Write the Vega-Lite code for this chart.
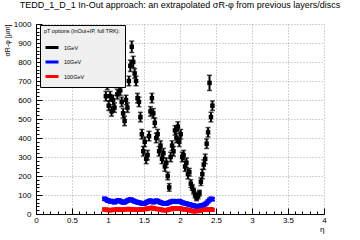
{
"$schema": "https://vega.github.io/schema/vega-lite/v6.json",
"width": 288, "height": 190,
"autosize": "none",
"padding": {"left": 36, "top": 24, "right": 36, "bottom": 26},
"background": "white",
"config": {"font": "Liberation Sans", "view": {"stroke": null}},
"title": {"text": "TEDD_1_D_1 In-Out approach: an extrapolated σR-φ from previous layers/discs", "fontSize": 9, "fontWeight": "normal", "anchor": "middle", "offset": 3, "baseline": "alphabetic", "color": "black", "frame": "group"},
"data": {"values": [
{"eta":0.95,"s":700,"e":25,"p":"1GeV"},{"eta":0.97,"s":620,"e":25,"p":"1GeV"},{"eta":0.99,"s":680,"e":25,"p":"1GeV"},{"eta":1.01,"s":570,"e":25,"p":"1GeV"},{"eta":1.03,"s":620,"e":25,"p":"1GeV"},{"eta":1.05,"s":540,"e":25,"p":"1GeV"},{"eta":1.07,"s":600,"e":25,"p":"1GeV"},{"eta":1.09,"s":560,"e":25,"p":"1GeV"},{"eta":1.11,"s":690,"e":25,"p":"1GeV"},{"eta":1.13,"s":630,"e":25,"p":"1GeV"},{"eta":1.15,"s":700,"e":25,"p":"1GeV"},{"eta":1.17,"s":650,"e":25,"p":"1GeV"},{"eta":1.19,"s":590,"e":25,"p":"1GeV"},{"eta":1.21,"s":530,"e":25,"p":"1GeV"},{"eta":1.23,"s":490,"e":25,"p":"1GeV"},{"eta":1.25,"s":600,"e":25,"p":"1GeV"},{"eta":1.27,"s":560,"e":25,"p":"1GeV"},{"eta":1.29,"s":700,"e":25,"p":"1GeV"},{"eta":1.31,"s":780,"e":30,"p":"1GeV"},{"eta":1.33,"s":880,"e":30,"p":"1GeV"},{"eta":1.35,"s":800,"e":30,"p":"1GeV"},{"eta":1.37,"s":740,"e":25,"p":"1GeV"},{"eta":1.39,"s":700,"e":25,"p":"1GeV"},{"eta":1.41,"s":610,"e":25,"p":"1GeV"},{"eta":1.43,"s":590,"e":25,"p":"1GeV"},{"eta":1.45,"s":510,"e":25,"p":"1GeV"},{"eta":1.47,"s":420,"e":25,"p":"1GeV"},{"eta":1.49,"s":330,"e":25,"p":"1GeV"},{"eta":1.51,"s":380,"e":25,"p":"1GeV"},{"eta":1.53,"s":290,"e":25,"p":"1GeV"},{"eta":1.55,"s":310,"e":25,"p":"1GeV"},{"eta":1.57,"s":410,"e":25,"p":"1GeV"},{"eta":1.59,"s":540,"e":25,"p":"1GeV"},{"eta":1.61,"s":610,"e":25,"p":"1GeV"},{"eta":1.63,"s":530,"e":25,"p":"1GeV"},{"eta":1.65,"s":480,"e":25,"p":"1GeV"},{"eta":1.67,"s":400,"e":25,"p":"1GeV"},{"eta":1.69,"s":420,"e":25,"p":"1GeV"},{"eta":1.71,"s":330,"e":25,"p":"1GeV"},{"eta":1.73,"s":360,"e":25,"p":"1GeV"},{"eta":1.75,"s":290,"e":25,"p":"1GeV"},{"eta":1.77,"s":320,"e":25,"p":"1GeV"},{"eta":1.79,"s":250,"e":25,"p":"1GeV"},{"eta":1.81,"s":270,"e":25,"p":"1GeV"},{"eta":1.83,"s":200,"e":20,"p":"1GeV"},{"eta":1.85,"s":140,"e":20,"p":"1GeV"},{"eta":1.87,"s":300,"e":25,"p":"1GeV"},{"eta":1.89,"s":360,"e":25,"p":"1GeV"},{"eta":1.91,"s":330,"e":25,"p":"1GeV"},{"eta":1.93,"s":440,"e":25,"p":"1GeV"},{"eta":1.95,"s":400,"e":25,"p":"1GeV"},{"eta":1.97,"s":460,"e":25,"p":"1GeV"},{"eta":1.99,"s":380,"e":25,"p":"1GeV"},{"eta":2.01,"s":420,"e":25,"p":"1GeV"},{"eta":2.03,"s":300,"e":25,"p":"1GeV"},{"eta":2.05,"s":310,"e":25,"p":"1GeV"},{"eta":2.07,"s":250,"e":25,"p":"1GeV"},{"eta":2.09,"s":270,"e":25,"p":"1GeV"},{"eta":2.11,"s":210,"e":25,"p":"1GeV"},{"eta":2.13,"s":220,"e":20,"p":"1GeV"},{"eta":2.15,"s":160,"e":20,"p":"1GeV"},{"eta":2.17,"s":140,"e":15,"p":"1GeV"},{"eta":2.19,"s":120,"e":15,"p":"1GeV"},{"eta":2.21,"s":100,"e":15,"p":"1GeV"},{"eta":2.23,"s":85,"e":15,"p":"1GeV"},{"eta":2.25,"s":95,"e":15,"p":"1GeV"},{"eta":2.27,"s":110,"e":15,"p":"1GeV"},{"eta":2.29,"s":170,"e":20,"p":"1GeV"},{"eta":2.31,"s":210,"e":25,"p":"1GeV"},{"eta":2.33,"s":260,"e":25,"p":"1GeV"},{"eta":2.35,"s":290,"e":25,"p":"1GeV"},{"eta":2.37,"s":370,"e":25,"p":"1GeV"},{"eta":2.39,"s":430,"e":25,"p":"1GeV"},{"eta":2.41,"s":690,"e":40,"p":"1GeV"},{"eta":2.43,"s":510,"e":25,"p":"1GeV"},{"eta":2.45,"s":570,"e":25,"p":"1GeV"},
{"eta":0.95,"s":80,"e":8,"p":"10GeV"},{"eta":0.97,"s":78,"e":8,"p":"10GeV"},{"eta":0.99,"s":72,"e":8,"p":"10GeV"},{"eta":1.01,"s":70,"e":8,"p":"10GeV"},{"eta":1.03,"s":66,"e":8,"p":"10GeV"},{"eta":1.05,"s":68,"e":8,"p":"10GeV"},{"eta":1.07,"s":64,"e":8,"p":"10GeV"},{"eta":1.09,"s":62,"e":8,"p":"10GeV"},{"eta":1.11,"s":66,"e":8,"p":"10GeV"},{"eta":1.13,"s":70,"e":8,"p":"10GeV"},{"eta":1.15,"s":72,"e":8,"p":"10GeV"},{"eta":1.17,"s":68,"e":8,"p":"10GeV"},{"eta":1.19,"s":64,"e":8,"p":"10GeV"},{"eta":1.21,"s":60,"e":8,"p":"10GeV"},{"eta":1.23,"s":62,"e":8,"p":"10GeV"},{"eta":1.25,"s":66,"e":8,"p":"10GeV"},{"eta":1.27,"s":70,"e":8,"p":"10GeV"},{"eta":1.29,"s":74,"e":8,"p":"10GeV"},{"eta":1.31,"s":76,"e":8,"p":"10GeV"},{"eta":1.33,"s":74,"e":8,"p":"10GeV"},{"eta":1.35,"s":70,"e":8,"p":"10GeV"},{"eta":1.37,"s":66,"e":8,"p":"10GeV"},{"eta":1.39,"s":64,"e":8,"p":"10GeV"},{"eta":1.41,"s":62,"e":8,"p":"10GeV"},{"eta":1.43,"s":60,"e":8,"p":"10GeV"},{"eta":1.45,"s":58,"e":8,"p":"10GeV"},{"eta":1.47,"s":56,"e":8,"p":"10GeV"},{"eta":1.49,"s":54,"e":8,"p":"10GeV"},{"eta":1.51,"s":56,"e":8,"p":"10GeV"},{"eta":1.53,"s":60,"e":8,"p":"10GeV"},{"eta":1.55,"s":64,"e":8,"p":"10GeV"},{"eta":1.57,"s":68,"e":8,"p":"10GeV"},{"eta":1.59,"s":70,"e":8,"p":"10GeV"},{"eta":1.61,"s":66,"e":8,"p":"10GeV"},{"eta":1.63,"s":62,"e":8,"p":"10GeV"},{"eta":1.65,"s":66,"e":8,"p":"10GeV"},{"eta":1.67,"s":70,"e":8,"p":"10GeV"},{"eta":1.69,"s":68,"e":8,"p":"10GeV"},{"eta":1.71,"s":64,"e":8,"p":"10GeV"},{"eta":1.73,"s":60,"e":8,"p":"10GeV"},{"eta":1.75,"s":58,"e":8,"p":"10GeV"},{"eta":1.77,"s":56,"e":8,"p":"10GeV"},{"eta":1.79,"s":56,"e":8,"p":"10GeV"},{"eta":1.81,"s":54,"e":8,"p":"10GeV"},{"eta":1.83,"s":58,"e":8,"p":"10GeV"},{"eta":1.85,"s":60,"e":8,"p":"10GeV"},{"eta":1.87,"s":64,"e":8,"p":"10GeV"},{"eta":1.89,"s":66,"e":8,"p":"10GeV"},{"eta":1.91,"s":68,"e":8,"p":"10GeV"},{"eta":1.93,"s":66,"e":8,"p":"10GeV"},{"eta":1.95,"s":64,"e":8,"p":"10GeV"},{"eta":1.97,"s":66,"e":8,"p":"10GeV"},{"eta":1.99,"s":68,"e":8,"p":"10GeV"},{"eta":2.01,"s":64,"e":8,"p":"10GeV"},{"eta":2.03,"s":60,"e":8,"p":"10GeV"},{"eta":2.05,"s":58,"e":8,"p":"10GeV"},{"eta":2.07,"s":56,"e":8,"p":"10GeV"},{"eta":2.09,"s":54,"e":8,"p":"10GeV"},{"eta":2.11,"s":52,"e":8,"p":"10GeV"},{"eta":2.13,"s":50,"e":8,"p":"10GeV"},{"eta":2.15,"s":48,"e":8,"p":"10GeV"},{"eta":2.17,"s":46,"e":8,"p":"10GeV"},{"eta":2.19,"s":44,"e":8,"p":"10GeV"},{"eta":2.21,"s":42,"e":8,"p":"10GeV"},{"eta":2.23,"s":40,"e":8,"p":"10GeV"},{"eta":2.25,"s":40,"e":8,"p":"10GeV"},{"eta":2.27,"s":42,"e":8,"p":"10GeV"},{"eta":2.29,"s":44,"e":8,"p":"10GeV"},{"eta":2.31,"s":46,"e":8,"p":"10GeV"},{"eta":2.33,"s":48,"e":8,"p":"10GeV"},{"eta":2.35,"s":52,"e":8,"p":"10GeV"},{"eta":2.37,"s":58,"e":8,"p":"10GeV"},{"eta":2.39,"s":66,"e":8,"p":"10GeV"},{"eta":2.41,"s":74,"e":8,"p":"10GeV"},{"eta":2.43,"s":80,"e":8,"p":"10GeV"},{"eta":2.45,"s":78,"e":8,"p":"10GeV"},
{"eta":0.95,"s":24,"e":5,"p":"100GeV"},{"eta":0.97,"s":22,"e":5,"p":"100GeV"},{"eta":0.99,"s":22,"e":5,"p":"100GeV"},{"eta":1.01,"s":20,"e":5,"p":"100GeV"},{"eta":1.03,"s":20,"e":5,"p":"100GeV"},{"eta":1.05,"s":21,"e":5,"p":"100GeV"},{"eta":1.07,"s":22,"e":5,"p":"100GeV"},{"eta":1.09,"s":22,"e":5,"p":"100GeV"},{"eta":1.11,"s":23,"e":5,"p":"100GeV"},{"eta":1.13,"s":24,"e":5,"p":"100GeV"},{"eta":1.15,"s":24,"e":5,"p":"100GeV"},{"eta":1.17,"s":22,"e":5,"p":"100GeV"},{"eta":1.19,"s":22,"e":5,"p":"100GeV"},{"eta":1.21,"s":23,"e":5,"p":"100GeV"},{"eta":1.23,"s":24,"e":5,"p":"100GeV"},{"eta":1.25,"s":25,"e":5,"p":"100GeV"},{"eta":1.27,"s":26,"e":5,"p":"100GeV"},{"eta":1.29,"s":26,"e":5,"p":"100GeV"},{"eta":1.31,"s":25,"e":5,"p":"100GeV"},{"eta":1.33,"s":24,"e":5,"p":"100GeV"},{"eta":1.35,"s":24,"e":5,"p":"100GeV"},{"eta":1.37,"s":23,"e":5,"p":"100GeV"},{"eta":1.39,"s":22,"e":5,"p":"100GeV"},{"eta":1.41,"s":22,"e":5,"p":"100GeV"},{"eta":1.43,"s":23,"e":5,"p":"100GeV"},{"eta":1.45,"s":24,"e":5,"p":"100GeV"},{"eta":1.47,"s":24,"e":5,"p":"100GeV"},{"eta":1.49,"s":25,"e":5,"p":"100GeV"},{"eta":1.51,"s":26,"e":5,"p":"100GeV"},{"eta":1.53,"s":27,"e":5,"p":"100GeV"},{"eta":1.55,"s":28,"e":5,"p":"100GeV"},{"eta":1.57,"s":30,"e":5,"p":"100GeV"},{"eta":1.59,"s":32,"e":5,"p":"100GeV"},{"eta":1.61,"s":32,"e":5,"p":"100GeV"},{"eta":1.63,"s":30,"e":5,"p":"100GeV"},{"eta":1.65,"s":28,"e":5,"p":"100GeV"},{"eta":1.67,"s":27,"e":5,"p":"100GeV"},{"eta":1.69,"s":26,"e":5,"p":"100GeV"},{"eta":1.71,"s":25,"e":5,"p":"100GeV"},{"eta":1.73,"s":24,"e":5,"p":"100GeV"},{"eta":1.75,"s":22,"e":5,"p":"100GeV"},{"eta":1.77,"s":20,"e":5,"p":"100GeV"},{"eta":1.79,"s":20,"e":5,"p":"100GeV"},{"eta":1.81,"s":20,"e":5,"p":"100GeV"},{"eta":1.83,"s":22,"e":5,"p":"100GeV"},{"eta":1.85,"s":24,"e":5,"p":"100GeV"},{"eta":1.87,"s":26,"e":5,"p":"100GeV"},{"eta":1.89,"s":28,"e":5,"p":"100GeV"},{"eta":1.91,"s":30,"e":5,"p":"100GeV"},{"eta":1.93,"s":30,"e":5,"p":"100GeV"},{"eta":1.95,"s":29,"e":5,"p":"100GeV"},{"eta":1.97,"s":28,"e":5,"p":"100GeV"},{"eta":1.99,"s":30,"e":5,"p":"100GeV"},{"eta":2.01,"s":28,"e":5,"p":"100GeV"},{"eta":2.03,"s":26,"e":5,"p":"100GeV"},{"eta":2.05,"s":25,"e":5,"p":"100GeV"},{"eta":2.07,"s":24,"e":5,"p":"100GeV"},{"eta":2.09,"s":23,"e":5,"p":"100GeV"},{"eta":2.11,"s":22,"e":5,"p":"100GeV"},{"eta":2.13,"s":20,"e":5,"p":"100GeV"},{"eta":2.15,"s":18,"e":5,"p":"100GeV"},{"eta":2.17,"s":16,"e":5,"p":"100GeV"},{"eta":2.19,"s":15,"e":5,"p":"100GeV"},{"eta":2.21,"s":15,"e":5,"p":"100GeV"},{"eta":2.23,"s":16,"e":5,"p":"100GeV"},{"eta":2.25,"s":16,"e":5,"p":"100GeV"},{"eta":2.27,"s":18,"e":5,"p":"100GeV"},{"eta":2.29,"s":20,"e":5,"p":"100GeV"},{"eta":2.31,"s":22,"e":5,"p":"100GeV"},{"eta":2.33,"s":24,"e":5,"p":"100GeV"},{"eta":2.35,"s":24,"e":5,"p":"100GeV"},{"eta":2.37,"s":22,"e":5,"p":"100GeV"},{"eta":2.39,"s":22,"e":5,"p":"100GeV"},{"eta":2.41,"s":24,"e":5,"p":"100GeV"},{"eta":2.43,"s":25,"e":5,"p":"100GeV"},{"eta":2.45,"s":22,"e":5,"p":"100GeV"}
]},
"layer": [
 {"mark": {"type": "point", "shape": "square", "filled": true, "size": 20, "opacity": 1},
  "encoding": {
   "x": {"field": "eta", "type": "quantitative", "scale": {"domain": [0, 4], "nice": false, "zero": false},
    "axis": {"values": [0, 0.5, 1, 1.5, 2, 2.5, 3, 3.5, 4], "format": "~g", "title": "η", "titleAnchor": "end", "titleAlign": "right", "titleFontSize": 8, "titleFontWeight": "normal", "titleColor": "black", "titlePadding": 1,
     "grid": true, "gridDash": [1, 2], "gridColor": "#a8a8a8", "tickSize": -6, "tickColor": "black", "domainColor": "black", "labelPadding": 8, "labelFontSize": 8, "labelColor": "black", "labelFlush": false}},
   "y": {"field": "s", "type": "quantitative", "scale": {"domain": [0, 1000], "nice": false},
    "axis": {"values": [0, 100, 200, 300, 400, 500, 600, 700, 800, 900, 1000], "format": "d", "title": "σR-φ [µm]", "titleAnchor": "end", "titleFontSize": 7, "titleFontWeight": "normal", "titleColor": "black", "titlePadding": 2.5,
     "grid": true, "gridDash": [1, 2], "gridColor": "#a8a8a8", "tickSize": -6, "tickColor": "black", "domainColor": "black", "labelPadding": 11, "labelFontSize": 8, "labelColor": "black", "labelFlush": false}},
   "color": {"field": "p", "type": "nominal", "scale": {"domain": ["1GeV", "10GeV", "100GeV"], "range": ["#000000", "#0000ff", "#ff0000"]},
    "legend": {"title": "pT options (InOut+IP, full TRK):", "orient": "none", "legendX": 4, "legendY": 1, "fillColor": "#f0f0f0", "strokeColor": "black", "padding": 4, "titleFontSize": 5.5, "titleFontWeight": "normal", "titleColor": "black", "labelFontSize": 5.5, "labelColor": "black", "symbolType": "stroke", "symbolSize": 169, "symbolStrokeWidth": 3, "rowPadding": 0.5, "titlePadding": 5, "labelOffset": 4,
     "encode": {"symbols": {"update": {"stroke": {"scale": "color", "field": "value"}, "strokeWidth": {"value": 3}}}}}}
  }},
 {"mark": {"type": "errorbar", "ticks": {"size": 5, "thickness": 1.5}, "thickness": 2},
  "encoding": {
   "x": {"field": "eta", "type": "quantitative", "axis": null},
   "y": {"field": "s", "type": "quantitative", "axis": null},
   "yError": {"field": "e"},
   "color": {"field": "p", "type": "nominal"}
  }},
 {"mark": {"type": "point", "opacity": 0},
  "encoding": {
   "x": {"field": "eta", "type": "quantitative", "axis": {"orient": "bottom", "values": [0.1,0.2,0.3,0.4,0.6,0.7,0.8,0.9,1.1,1.2,1.3,1.4,1.6,1.7,1.8,1.9,2.1,2.2,2.3,2.4,2.6,2.7,2.8,2.9,3.1,3.2,3.3,3.4,3.6,3.7,3.8,3.9], "labels": false, "domain": false, "grid": false, "title": null, "tickSize": -3, "tickColor": "black"}},
   "y": {"field": "s", "type": "quantitative", "axis": {"orient": "left", "values": [20,40,60,80,120,140,160,180,220,240,260,280,320,340,360,380,420,440,460,480,520,540,560,580,620,640,660,680,720,740,760,780,820,840,860,880,920,940,960,980], "labels": false, "domain": false, "grid": false, "title": null, "tickSize": -3, "tickColor": "black"}}
  }}
],
"resolve": {"axis": {"x": "independent", "y": "independent"}}
}
